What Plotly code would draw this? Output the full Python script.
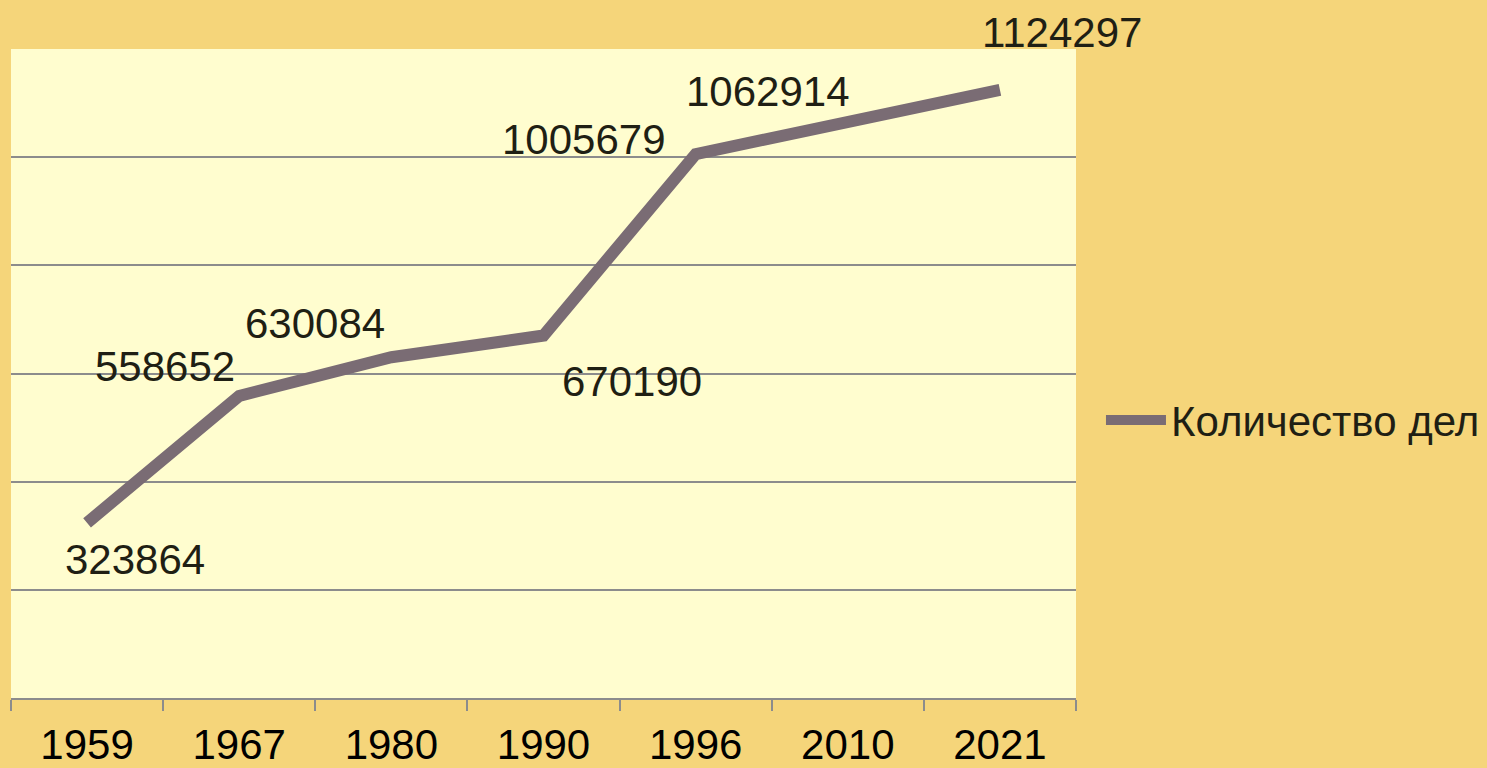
import plotly.graph_objects as go

years = ["1959", "1967", "1980", "1990", "1996", "2010", "2021"]
cases = [323864, 558652, 630084, 670190, 1005679, 1062914, 1124297]
series_name = "Количество дел"
label_xshift = [48, -74, -76, 88, -112, -80, 62]
label_yshift = [-37, 29, 34, -46, 15, 32, 57]

FONT = "Liberation Sans, Arial, sans-serif"
TXT = "#1f1f14"

fig = go.Figure()
fig.add_trace(go.Scatter(
    x=years, y=cases, mode="lines", name=series_name,
    line=dict(color="#7a6c74", width=12),
    showlegend=True,
))

for i, (y, dx, dy) in enumerate(zip(cases, label_xshift, label_yshift)):
    fig.add_annotation(x=i, y=y, xref="x", yref="y", text=str(y), showarrow=False,
                       xshift=dx, yshift=dy,
                       font=dict(family=FONT, size=42, color=TXT))

fig.update_layout(
    width=1487, height=768,
    margin=dict(l=11, r=411, t=49, b=70, autoexpand=False),
    paper_bgcolor="#f5d57a",
    plot_bgcolor="#fffdcf",
    font=dict(family=FONT, size=42, color=TXT),
    showlegend=True,
    legend=dict(xref="container", yref="container", x=0.7404, y=0.453,
                xanchor="left", yanchor="middle",
                bgcolor="rgba(0,0,0,0)", font=dict(size=42, color=TXT),
                itemwidth=60),
    xaxis=dict(
        type="category", tickson="boundaries", ticks="outside", ticklen=11,
        tickcolor="#8c8c8c", tickwidth=2, showline=True, linecolor="#8c8c8c",
        linewidth=2, showgrid=False, tickfont=dict(size=42, color="#000000"),
        range=[-0.5, 6.5], fixedrange=True, ticklabelstandoff=9,
        automargin=False,
    ),
    yaxis=dict(
        range=[0, 1200000], dtick=200000, showticklabels=False,
        showgrid=True, gridcolor="#8c8c8c", gridwidth=2, zeroline=False,
        showline=False, ticks="", automargin=False,
    ),
)

fig.write_html("out.html", config={"displayModeBar": False},
               post_script="document.body.style.margin='0';document.body.style.background='#f5d57a';")
